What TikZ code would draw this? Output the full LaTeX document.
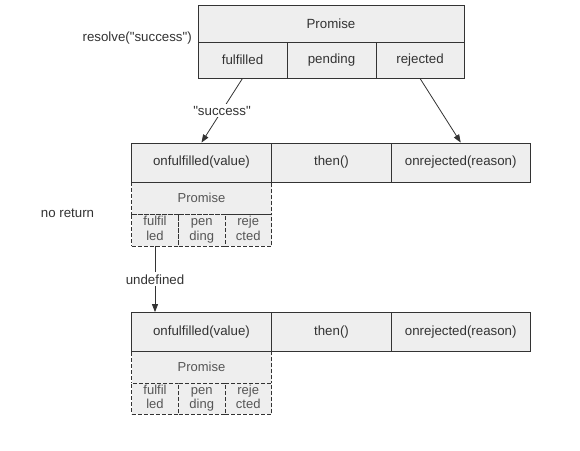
\documentclass[tikz,border=0pt]{standalone}
\usepackage{fontspec}
\setmainfont{Liberation Sans}[Ligatures=TeXOff]
\usetikzlibrary{arrows.meta}
\definecolor{ln}{HTML}{333333}
\definecolor{bg}{HTML}{EEEEEE}
\definecolor{tx}{HTML}{333333}
\definecolor{txd}{HTML}{555555}
\newcommand{\cellfont}{\fontsize{13.3}{16}\selectfont}
\newcommand{\dcellfont}{\fontsize{13}{14.6}\selectfont}
\newcommand{\twol}[2]{#1\strut\\#2\strut}
\begin{document}
\begin{tikzpicture}[x=1pt,y=-1pt,
  cell/.style={draw=ln, fill=bg, line width=0.8pt, inner sep=0pt,
    font=\cellfont, text=tx},
  dcell/.style={cell, dash pattern=on 4pt off 2pt, text=txd, align=center, font=\dcellfont},
  lbl/.style={fill=white, inner sep=2pt, font=\cellfont, text=tx},
  arr/.style={draw=ln, line width=0.8pt, -{Triangle[length=8pt,width=6pt]}}]
\useasboundingbox (0,0) rectangle (580,450);
% top promise
\node[cell, minimum width=266, minimum height=37] (p) at (331,23.5) {Promise};
\node[cell, minimum width=89, minimum height=36] (ful) at (242.5,60) {fulfilled};
\node[cell, minimum width=89, minimum height=36] (pen) at (331.5,60) {pending};
\node[cell, minimum width=88, minimum height=36] (rej) at (420,60) {rejected};
\node[lbl, anchor=east] (res) at (194,38) {resolve("success")};
% middle dashed promise
\node[dcell, minimum width=140, minimum height=32.5] (dp1) at (201.5,198.25) {Promise};
\node[dcell, minimum width=47, minimum height=31.5] (c11) at (155,230.25) {\twol{fulfil}{led}};
\node[dcell, minimum width=46.5, minimum height=31.5] (c12) at (201.75,230.25) {\twol{pen}{ding}};
\node[dcell, minimum width=46.5, minimum height=31.5] (c13) at (248.25,230.25) {\twol{reje}{cted}};
% middle row
\node[cell, minimum width=140, minimum height=39] (onf1) at (201.5,162.5) {onfulfilled(value)};
\node[cell, minimum width=120, minimum height=39] (th1) at (331.5,162.5) {then()};
\node[cell, minimum width=138.5, minimum height=39] (onr1) at (460.75,162.5) {onrejected(reason)};
\node[lbl] (nr) at (67.5,213.5) {no return};
% bottom dashed promise
\node[dcell, minimum width=140, minimum height=31.5] (dp2) at (201.5,367.25) {Promise};
\node[dcell, minimum width=47, minimum height=31] (c21) at (155,398.5) {\twol{fulfil}{led}};
\node[dcell, minimum width=46.5, minimum height=31] (c22) at (201.75,398.5) {\twol{pen}{ding}};
\node[dcell, minimum width=46.5, minimum height=31] (c23) at (248.25,398.5) {\twol{reje}{cted}};
% bottom row
\node[cell, minimum width=140, minimum height=39] (onf2) at (201.5,332) {onfulfilled(value)};
\node[cell, minimum width=120, minimum height=39] (th2) at (331.5,332) {then()};
\node[cell, minimum width=138.5, minimum height=39] (onr2) at (460.75,332) {onrejected(reason)};
% arrows
\draw[arr] (ful.south) -- node[lbl] {"success"} (onf1.north);
\draw[arr] (rej.south) -- (onr1.north);
\draw[arr] (c11.south) -- node[lbl] {undefined} (c11.south |- onf2.north);
\end{tikzpicture}
\end{document}
